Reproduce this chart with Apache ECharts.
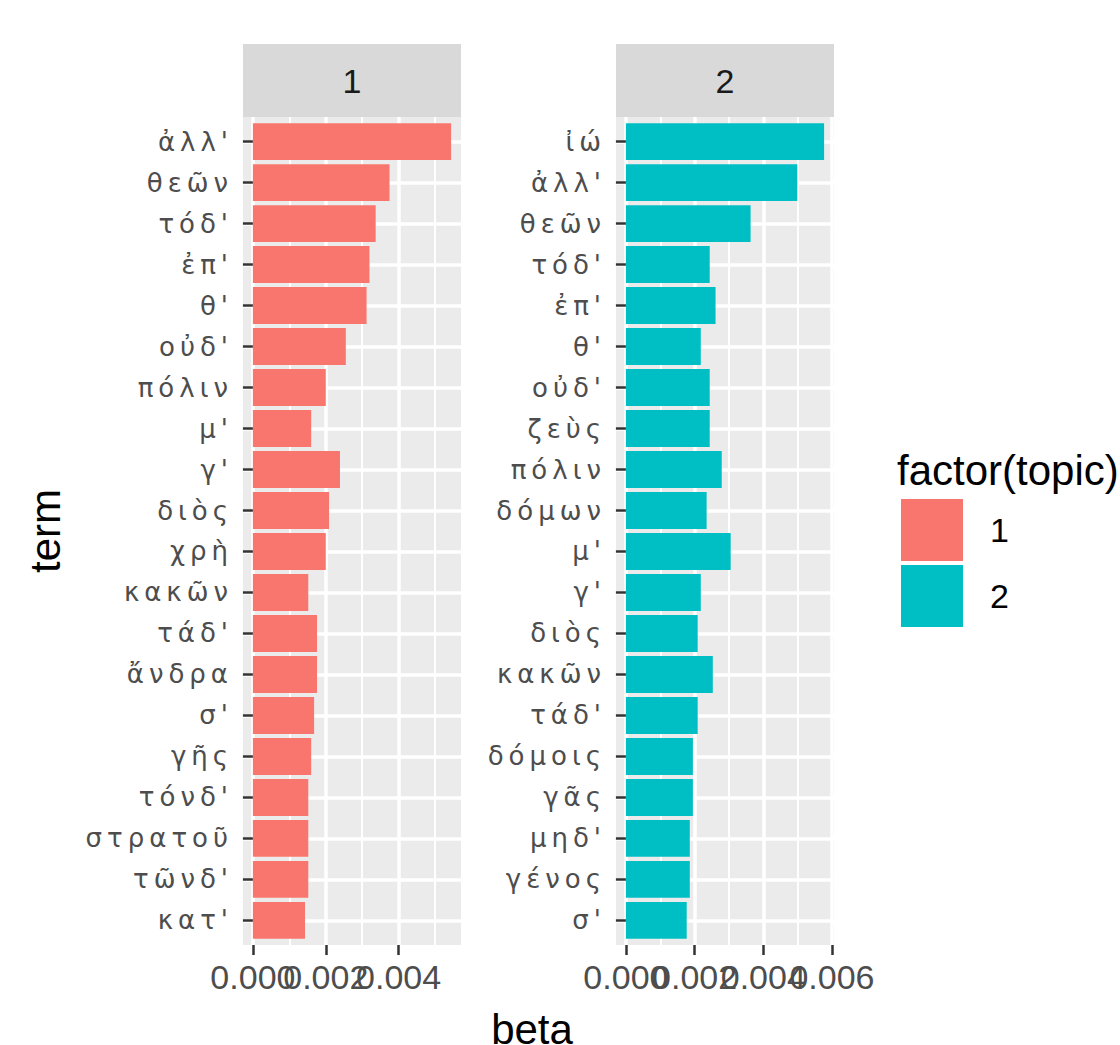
<!DOCTYPE html>
<html><head><meta charset="utf-8">
<script src="https://cdn.jsdelivr.net/npm/echarts@6/dist/echarts.min.js"></script>
<style>
html,body{margin:0;padding:0;background:#fff;}
#chart{width:1120px;height:1045px;}
#chart text[style*="DejaVu"]{letter-spacing:5px;}
</style></head><body><div id="chart"></div>
<script>
const topics = ['1', '2'];
const terms1 = ["ἀλλ'", "θεῶν", "τόδ'", "ἐπ'", "θ'", "οὐδ'", "πόλιν", "μ'", "γ'", "διὸς", "χρὴ", "κακῶν", "τάδ'", "ἄνδρα", "σ'", "γῆς", "τόνδ'", "στρατοῦ", "τῶνδ'", "κατ'"];
const beta1 = [0.00544, 0.00375, 0.00337, 0.00320, 0.00312, 0.00255, 0.00200, 0.00160, 0.00239, 0.00209, 0.00200, 0.00152, 0.00176, 0.00176, 0.00168, 0.00160, 0.00152, 0.00152, 0.00152, 0.00143];
const terms2 = ["ἰώ", "ἀλλ'", "θεῶν", "τόδ'", "ἐπ'", "θ'", "οὐδ'", "ζεὺς", "πόλιν", "δόμων", "μ'", "γ'", "διὸς", "κακῶν", "τάδ'", "δόμοις", "γᾶς", "μηδ'", "γένος", "σ'"];
const beta2 = [0.00577, 0.00499, 0.00363, 0.00244, 0.00261, 0.00218, 0.00244, 0.00244, 0.00279, 0.00235, 0.00305, 0.00218, 0.00209, 0.00253, 0.00209, 0.00195, 0.00195, 0.00186, 0.00186, 0.00177];
const xTicks1 = [0, 0.002, 0.004];
const xMinor1 = [0.001, 0.003, 0.005];
const xTicks2 = [0, 0.002, 0.004, 0.006];
const xMinor2 = [0.001, 0.003, 0.005];
const xTitle = 'beta';
const yTitle = 'term';
const legendTitle = 'factor(topic)';
const colors = ['#F8766D', '#00BFC4'];

const chart = echarts.init(document.getElementById('chart'), null, {renderer: 'svg'});

const panels = [
  {terms: terms1, beta: beta1, ticks: xTicks1, minor: xMinor1, left: 243, width: 218},
  {terms: terms2, beta: beta2, ticks: xTicks2, minor: xMinor2, left: 616, width: 218}
];
const TOP = 117, HEIGHT = 828;

function renderBar(params, api) {
  const v = api.value(0), i = api.value(1);
  const a = api.coord([0, i - 0.45]);
  const b = api.coord([v, i + 0.45]);
  return {
    type: 'rect',
    shape: {x: a[0], y: Math.min(a[1], b[1]), width: b[0] - a[0], height: Math.abs(b[1] - a[1])},
    style: {fill: api.visual('color')}
  };
}

function majorAxis(k, xmin, xmax, vals) {
  return {
    type: 'value', gridIndex: k, min: xmin, max: xmax, position: 'bottom',
    axisLine: {show: false},
    axisTick: {show: true, length: 10, customValues: vals, lineStyle: {color: '#333333', width: 2.5}},
    axisLabel: {show: true, customValues: vals, margin: 15, hideOverlap: false,
      showMinLabel: true, showMaxLabel: true,
      formatter: v => v.toFixed(3), color: '#4D4D4D', fontSize: 34, fontFamily: 'Liberation Sans'},
    splitLine: {show: true, showMinLine: true, showMaxLine: true, lineStyle: {color: '#FFFFFF', width: 3.5}},
    minorTick: {show: false}, minorSplitLine: {show: false}
  };
}

const grid = [], xAxis = [], yAxis = [], series = [], graphic = [];
panels.forEach((p, k) => {
  const m = Math.max(...p.beta);
  const xmin = -0.05 * m, xmax = 1.05 * m;
  grid.push({left: p.left, top: TOP, width: p.width, height: HEIGHT, show: true,
    backgroundColor: '#EBEBEB', borderWidth: 0, outerBoundsMode: 'none', containLabel: false});
  // tick labels alternate between two axes so each axis holds labels that do not collide
  xAxis.push(majorAxis(k, xmin, xmax, p.ticks.filter((t, i) => i % 2 === 0)));
  xAxis.push(majorAxis(k, xmin, xmax, p.ticks.filter((t, i) => i % 2 === 1)));
  xAxis.push({
    type: 'value', gridIndex: k, min: xmin, max: xmax, position: 'top',
    axisLine: {show: false},
    axisTick: {show: false, customValues: p.minor},
    axisLabel: {show: false, customValues: p.minor},
    splitLine: {show: true, showMinLine: true, showMaxLine: true, lineStyle: {color: '#FFFFFF', width: 2}}
  });
  const idx = p.terms.map((t, i) => i + 1);
  yAxis.push({
    type: 'value', gridIndex: k, inverse: true, min: 0.4, max: p.terms.length + 0.6,
    axisLine: {show: false},
    axisTick: {show: true, length: 10, customValues: idx, lineStyle: {color: '#333333', width: 2.5}},
    axisLabel: {show: true, customValues: idx, margin: 10, hideOverlap: false,
      showMinLabel: true, showMaxLabel: true,
      formatter: v => p.terms[Math.round(v) - 1], color: '#4D4D4D', fontSize: 26, fontFamily: 'DejaVu Sans'},
    splitLine: {show: true, showMinLine: true, showMaxLine: true, lineStyle: {color: '#FFFFFF', width: 3.5}}
  });
  series.push({
    type: 'custom', name: topics[k], xAxisIndex: 3 * k, yAxisIndex: k,
    itemStyle: {color: colors[k]},
    encode: {x: 0, y: 1},
    data: p.beta.map((b, i) => [b, i + 1]),
    renderItem: renderBar
  });
  graphic.push({type: 'rect', shape: {x: p.left, y: 44, width: p.width, height: TOP - 44},
    style: {fill: '#D9D9D9'}, silent: true});
  graphic.push({type: 'text', x: p.left + p.width / 2, y: 81,
    style: {text: topics[k], fill: '#1A1A1A', fontSize: 34, fontFamily: 'Liberation Sans',
      textAlign: 'center', textVerticalAlign: 'middle', align: 'center', verticalAlign: 'middle'}, silent: true});
});

graphic.push({type: 'text', x: 45, y: 531, rotation: Math.PI / 2,
  style: {text: yTitle, fill: '#000000', fontSize: 42, fontFamily: 'Liberation Sans',
    textAlign: 'center', textVerticalAlign: 'middle', align: 'center', verticalAlign: 'middle'}, silent: true});
graphic.push({type: 'text', x: 532, y: 1029,
  style: {text: xTitle, fill: '#000000', fontSize: 42, fontFamily: 'Liberation Sans',
    textAlign: 'center', textVerticalAlign: 'middle', align: 'center', verticalAlign: 'middle'}, silent: true});
graphic.push({type: 'text', x: 897, y: 470,
  style: {text: legendTitle, fill: '#000000', fontSize: 42, fontFamily: 'Liberation Sans',
    textAlign: 'left', textVerticalAlign: 'middle', align: 'left', verticalAlign: 'middle'}, silent: true});

chart.setOption({
  animation: false,
  backgroundColor: '#FFFFFF',
  grid, xAxis, yAxis, series, graphic,
  legend: {
    orient: 'vertical', left: 901, top: 499, padding: 0, itemWidth: 62, itemHeight: 62, itemGap: 4,
    icon: 'rect', data: topics, selectedMode: false,
    textStyle: {fontSize: 34, fontFamily: 'Liberation Sans', color: '#000000', padding: [0, 0, 0, 22]}
  }
});
</script></body></html>
